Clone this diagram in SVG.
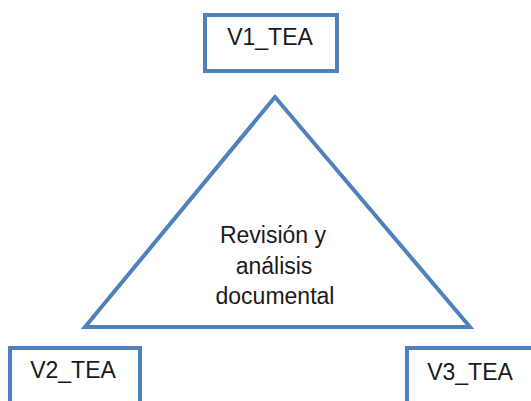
<svg xmlns="http://www.w3.org/2000/svg" width="531" height="401" viewBox="0 0 531 401">
  <style>
    .box { fill: #ffffff; stroke: #4F81BD; stroke-width: 4; }
    .tri { fill: #ffffff; stroke: #4F81BD; stroke-width: 4; stroke-linejoin: miter; }
    .label { font-family: "Liberation Sans", Arial, sans-serif; font-size: 23px; fill: #1a1a1a; text-anchor: middle; }
  </style>
  <rect width="531" height="401" fill="#ffffff"/>

  <!-- central triangle with its caption -->
  <g id="revision">
    <polygon class="tri" points="275,97 85,327 470,327"/>
    <text class="label" x="273" y="243">Revisión y</text>
    <text class="label" x="274" y="274">análisis</text>
    <text class="label" x="275" y="304">documental</text>
  </g>

  <g id="v1">
    <rect class="box" x="205" y="15" width="132" height="56"/>
    <text class="label" x="270" y="45">V1_TEA</text>
  </g>

  <g id="v2">
    <rect class="box" x="10" y="348" width="130" height="60"/>
    <text class="label" x="73" y="378">V2_TEA</text>
  </g>

  <g id="v3">
    <rect class="box" x="407" y="348" width="130" height="60"/>
    <text class="label" x="470" y="380">V3_TEA</text>
  </g>
</svg>
